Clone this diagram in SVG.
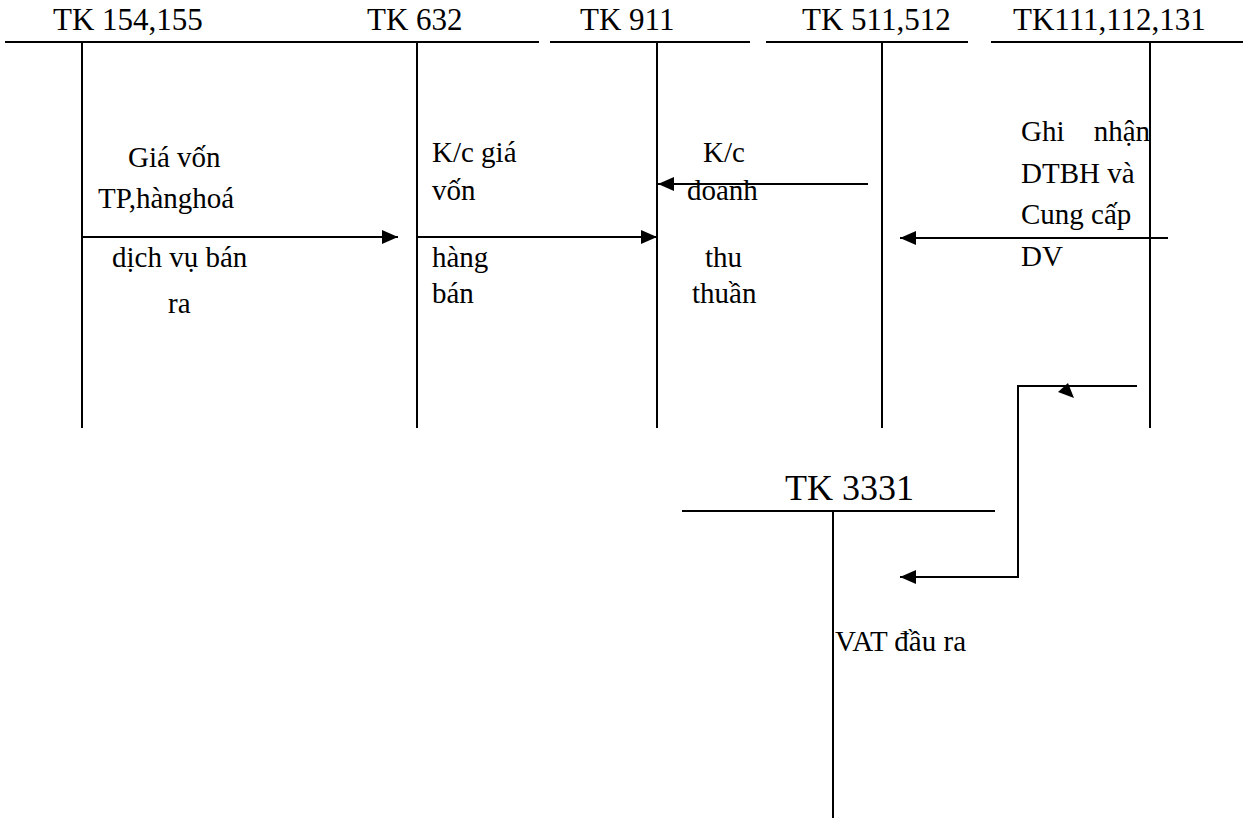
<svg xmlns="http://www.w3.org/2000/svg" width="1251" height="820" viewBox="0 0 1251 820">
<style>
text{font-family:'Liberation Serif','Times New Roman',Times,'DejaVu Serif',serif;fill:#000}
.t{font-size:31px}
.b{font-size:29px}
.ln{stroke:#000;stroke-width:2;fill:none}
.ar{stroke:#000;stroke-width:2;fill:none;marker-end:url(#ah)}
</style>
<defs>
<marker id="ah" markerUnits="userSpaceOnUse" markerWidth="18" markerHeight="16" refX="16" refY="8" orient="auto">
<path d="M0,1 L16,8 L0,15 Z" fill="#000"/>
</marker>
</defs>
<g id="tk154" font-family="Liberation Serif, serif">
<line class="ln" x1="5" y1="42" x2="539" y2="42"/>
<line class="ln" x1="82" y1="42" x2="82" y2="428"/>
<text class="t" x="53" y="30">TK 154,155</text>
<text class="b" x="128" y="167">Giá vốn</text>
<text class="b" x="98" y="208">TP,hànghoá</text>
<text class="b" x="112" y="267">dịch vụ bán</text>
<text class="b" x="168" y="313">ra</text>
</g>
<g id="tk632">
<line class="ln" x1="417" y1="42" x2="417" y2="428"/>
<text class="t" x="367" y="30">TK 632</text>
<text class="b" x="432" y="162">K/c giá</text>
<text class="b" x="432" y="200">vốn</text>
<text class="b" x="432" y="267">hàng</text>
<text class="b" x="432" y="303">bán</text>
</g>
<g id="tk911">
<line class="ln" x1="550" y1="42" x2="750" y2="42"/>
<line class="ln" x1="657" y1="42" x2="657" y2="428"/>
<text class="t" x="580" y="30">TK 911</text>
<text class="b" x="703" y="162">K/c</text>
<text class="b" x="687" y="200">doanh</text>
<text class="b" x="705" y="267">thu</text>
<text class="b" x="692" y="303">thuần</text>
</g>
<g id="tk511">
<line class="ln" x1="766" y1="42" x2="968" y2="42"/>
<line class="ln" x1="882" y1="42" x2="882" y2="428"/>
<text class="t" x="802" y="30">TK 511,512</text>
</g>
<g id="tk111">
<line class="ln" x1="991" y1="42" x2="1243" y2="42"/>
<line class="ln" x1="1150" y1="42" x2="1150" y2="428"/>
<text class="t" x="1013" y="30">TK111,112,131</text>
<text class="b" x="1021" y="141">Ghi</text>
<text class="b" x="1150" y="141" text-anchor="end">nhận</text>
<text class="b" x="1021" y="183">DTBH và</text>
<text class="b" x="1021" y="224">Cung cấp</text>
<text class="b" x="1021" y="266">DV</text>
</g>
<g id="tk3331">
<line class="ln" x1="682" y1="511" x2="995" y2="511"/>
<line class="ln" x1="833" y1="511" x2="833" y2="818"/>
<text class="t" x="785" y="500" style="font-size:36px">TK 3331</text>
<text class="b" x="835" y="651">VAT đầu ra</text>
</g>
<g id="connectors">
<line class="ar" x1="82" y1="237" x2="398" y2="237"/>
<line class="ar" x1="417" y1="237" x2="657" y2="237"/>
<line class="ar" x1="868" y1="184" x2="658" y2="184"/>
<line class="ar" x1="1168" y1="238" x2="900" y2="238"/>
<polyline class="ar" points="1137,386 1018,386 1018,577 900,577"/>
<polygon points="1058,392 1068,383 1074,398" fill="#000"/>
</g>
</svg>
